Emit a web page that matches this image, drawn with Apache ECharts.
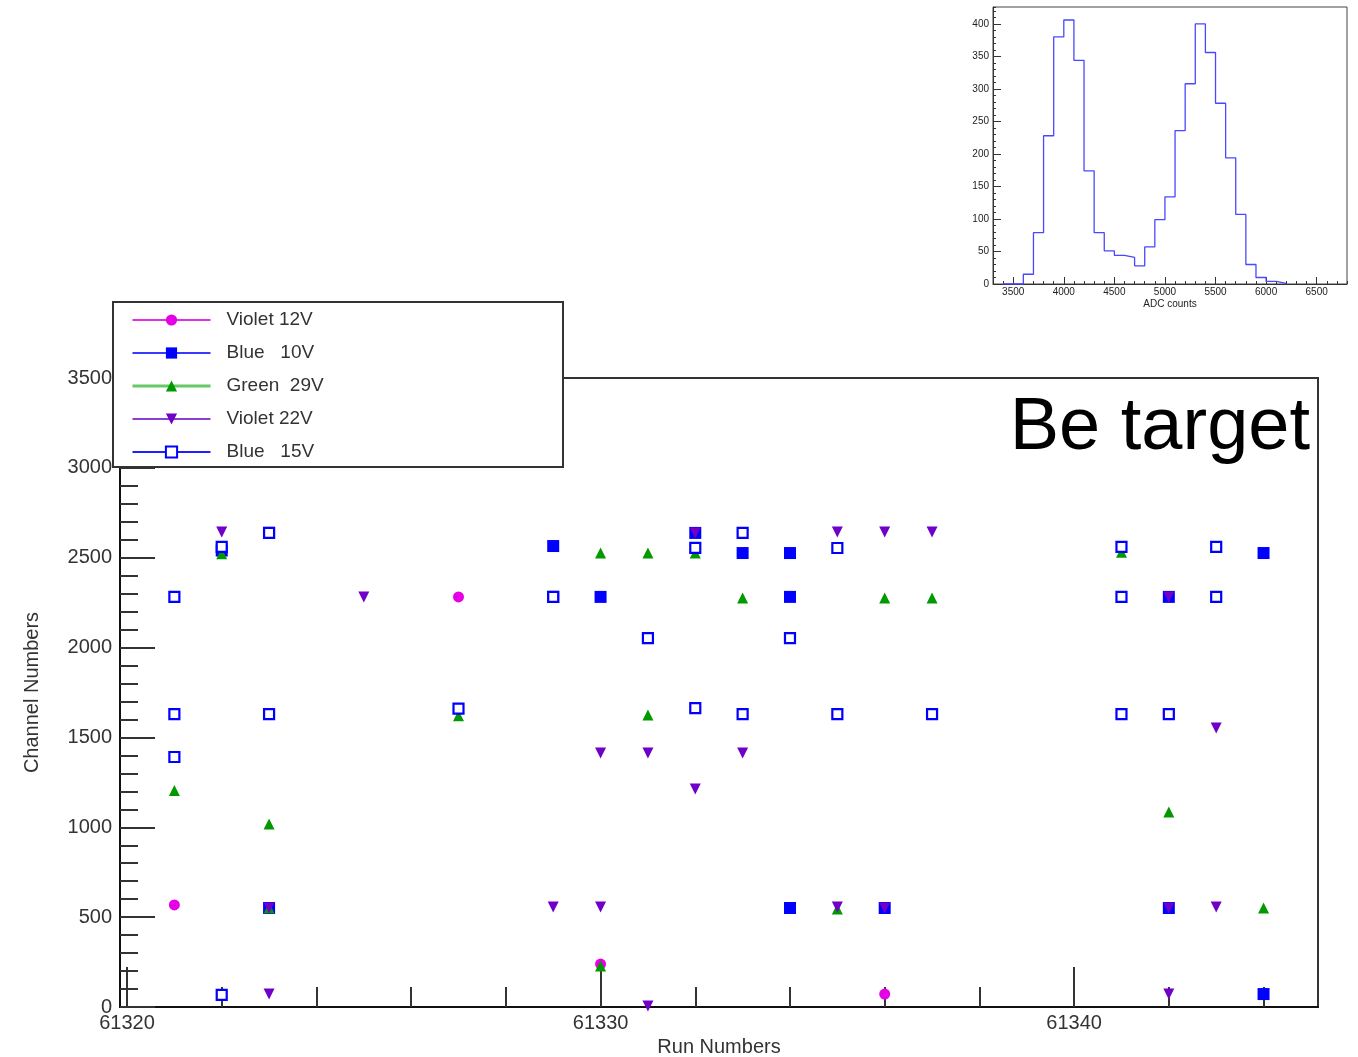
<!DOCTYPE html>
<html>
<head>
<meta charset="utf-8">
<script src="https://cdn.jsdelivr.net/npm/echarts@6/dist/echarts.min.js"></script>
<style>
  html, body { margin: 0; padding: 0; background: #fff; }
  #chart { width: 1358px; height: 1057px; }
</style>
</head>
<body>
<div id="chart"></div>
<script>
// run number vs channel, one list of [run, channel] per LED setting
const violet12V = [[61321, 568], [61327, 2282], [61330, 239], [61336, 72]];
const blue10V = [
  [61322, 2540], [61323, 2638], [61323, 551], [61329, 2565], [61329, 2282],
  [61330, 2282], [61332, 2638], [61333, 2526], [61334, 2526], [61334, 2282],
  [61334, 551], [61336, 551], [61342, 2282], [61342, 551], [61344, 2526], [61344, 72]
];
const green29V = [
  [61321, 1205], [61322, 2522], [61323, 1018], [61323, 551], [61327, 1620],
  [61329, 2282], [61330, 2526], [61330, 228], [61331, 2526], [61331, 1625],
  [61332, 2526], [61333, 2276], [61335, 545], [61336, 2276], [61337, 2276],
  [61341, 2530], [61341, 2282], [61342, 1085], [61343, 2282], [61344, 551]
];
const violet22V = [
  [61322, 2643], [61323, 2638], [61323, 551], [61323, 72], [61325, 2282],
  [61327, 1655], [61329, 556], [61330, 1413], [61330, 556], [61331, 1413],
  [61331, 5], [61332, 2638], [61332, 1663], [61332, 1213], [61333, 1413],
  [61335, 2643], [61335, 556], [61336, 2643], [61336, 551], [61337, 2643],
  [61342, 2282], [61342, 551], [61342, 72], [61343, 1553], [61343, 556]
];
const blue15V = [
  [61321, 2282], [61321, 1630], [61321, 1391], [61322, 2560], [61322, 67],
  [61323, 2638], [61323, 1630], [61327, 1660], [61329, 2282], [61331, 2053],
  [61332, 2555], [61332, 1663], [61333, 2638], [61333, 1630], [61334, 2053],
  [61335, 2554], [61335, 1630], [61337, 1630], [61341, 2560], [61341, 2282],
  [61341, 1630], [61342, 1630], [61343, 2560], [61343, 2282]
];
const runMajor = [61320, 61330, 61340];
const runMinor = [61322, 61324, 61326, 61328, 61332, 61334, 61336, 61338, 61342, 61344];

// inset histogram: bin low edges and counts (bin width 100)
const adcEdges = [3400, 3500, 3600, 3700, 3800, 3900, 4000, 4100, 4200, 4300, 4400, 4500, 4600, 4700,
  4800, 4900, 5000, 5100, 5200, 5300, 5400, 5500, 5600, 5700, 5800, 5900, 6000, 6100, 6200];
const adcCounts = [0, 0, 15, 79, 228, 380, 406, 344, 174, 79, 51, 44, 41, 28,
  57, 99, 134, 236, 308, 400, 356, 278, 194, 107, 30, 10, 4, 1, 0];
const adcLabels = [3500, 4000, 4500, 5000, 5500, 6000, 6500];
const countLabels = [0, 50, 100, 150, 200, 250, 300, 350, 400];

const FONT = "'Liberation Sans', Arial, Helvetica, sans-serif";
const chart = echarts.init(document.getElementById('chart'));

const tickLine = { color: '#333', width: 2 };
const smallTick = { color: '#333', width: 1 };
const plain = v => String(v);

const mkSeries = (name, data, symbol, size, color, extra) => Object.assign({
  name: name,
  type: 'line',
  xAxisIndex: 0,
  yAxisIndex: 0,
  data: data,
  symbol: symbol,
  symbolSize: size,
  showSymbol: true,
  clip: false,
  lineStyle: { opacity: 0, width: 0 },
  itemStyle: { color: color },
  emphasis: { disabled: true }
}, extra || {});

const option = {
  animation: false,
  backgroundColor: '#fff',
  textStyle: { fontFamily: FONT },
  grid: [
    { left: 120, top: 378, width: 1198, height: 629, outerBoundsMode: 'none', show: true, borderColor: '#333', borderWidth: 2 },
    { left: 993, top: 7, width: 354, height: 277, outerBoundsMode: 'none', show: true, borderColor: '#444', borderWidth: 1 }
  ],
  xAxis: [
    {
      type: 'value', gridIndex: 0, min: 61319.852, max: 61345.15, position: 'bottom',
      axisLine: { onZero: false, lineStyle: { color: '#111', width: 2 } },
      axisTick: { inside: true, length: 40, customValues: runMajor, lineStyle: tickLine },
      axisLabel: { customValues: runMajor, formatter: plain, fontSize: 20, color: '#333', margin: 6 },
      splitLine: { show: false },
      name: 'Run Numbers', nameLocation: 'middle', nameGap: 29,
      nameTextStyle: { fontSize: 20, color: '#333' }
    },
    {
      type: 'value', gridIndex: 0, min: 61319.852, max: 61345.15, position: 'bottom',
      axisLine: { show: false, onZero: false },
      axisTick: { inside: true, length: 20, customValues: runMinor, lineStyle: tickLine },
      axisLabel: { show: false },
      splitLine: { show: false }
    },
    {
      type: 'value', gridIndex: 1, min: 3300, max: 6800, interval: 100, position: 'bottom',
      axisLine: { onZero: false, lineStyle: { color: '#333', width: 1 } },
      axisTick: { inside: true, length: 3, lineStyle: smallTick },
      axisLabel: { customValues: adcLabels, formatter: plain, fontSize: 10, color: '#222', margin: 3 },
      splitLine: { show: false },
      name: 'ADC counts', nameLocation: 'middle', nameGap: 15,
      nameTextStyle: { fontSize: 10, color: '#222' }
    },
    {
      type: 'value', gridIndex: 1, min: 3300, max: 6800, position: 'bottom',
      axisLine: { show: false, onZero: false },
      axisTick: { inside: true, length: 7, customValues: adcLabels, lineStyle: smallTick },
      axisLabel: { show: false },
      splitLine: { show: false }
    }
  ],
  yAxis: [
    {
      type: 'value', gridIndex: 0, min: 0, max: 3500, interval: 500, position: 'left',
      axisLine: { show: true, onZero: false, lineStyle: { color: '#111', width: 2 } },
      axisTick: { inside: true, length: 35, lineStyle: tickLine },
      minorTick: { show: true, splitNumber: 5, length: 18, lineStyle: tickLine },
      axisLabel: { formatter: plain, fontSize: 20, color: '#333', margin: 8 },
      splitLine: { show: false },
      name: 'Channel Numbers', nameLocation: 'middle', nameGap: 78,
      nameTextStyle: { fontSize: 20, color: '#333' }
    },
    {
      type: 'value', gridIndex: 1, min: 0, max: 426, interval: 10, position: 'left',
      axisLine: { show: true, onZero: false, lineStyle: { color: '#333', width: 1 } },
      axisTick: { inside: true, length: 3, lineStyle: smallTick },
      axisLabel: { customValues: countLabels, formatter: plain, fontSize: 10, color: '#222', margin: 4 },
      splitLine: { show: false }
    },
    {
      type: 'value', gridIndex: 1, min: 0, max: 426, position: 'left',
      axisLine: { show: false, onZero: false },
      axisTick: { inside: true, length: 8, customValues: countLabels, lineStyle: smallTick },
      axisLabel: { show: false },
      splitLine: { show: false }
    }
  ],
  legend: {
    z: 10,
    orient: 'vertical',
    left: 131,
    top: 310,
    padding: 0,
    itemWidth: 78,
    itemHeight: 14,
    itemGap: 13,
    selectedMode: false,
    textStyle: { fontSize: 19, color: '#333', lineHeight: 20, padding: [0, 0, 0, 11] },
    data: [
      { name: 'Violet 12V', lineStyle: { color: '#e030e0', width: 2, opacity: 1 } },
      { name: 'Blue   10V', lineStyle: { color: '#3a3aff', width: 2, opacity: 1 } },
      { name: 'Green  29V', lineStyle: { color: '#66c866', width: 3, opacity: 1 } },
      { name: 'Violet 22V', lineStyle: { color: '#8a40d4', width: 2, opacity: 1 } },
      { name: 'Blue   15V', lineStyle: { color: '#2020ff', width: 2, opacity: 1 } }
    ]
  },
  graphic: [
    {
      type: 'rect', z: 9,
      shape: { x: 113, y: 302, width: 450, height: 165 },
      style: { fill: '#fff', stroke: '#333', lineWidth: 2 }
    },
    {
      type: 'text', z: 9,
      style: {
        x: 1310, y: 429, text: 'Be target', fill: '#000',
        font: "74px 'Liberation Sans', Arial, sans-serif",
        textAlign: 'right', textVerticalAlign: 'middle'
      }
    }
  ],
  series: [
    mkSeries('Violet 12V', violet12V, 'circle', 11, '#e600e6'),
    mkSeries('Blue   10V', blue10V, 'rect', 12, '#0000ff'),
    mkSeries('Green  29V', green29V, 'triangle', 11, '#009a00'),
    mkSeries('Violet 22V', violet22V, 'triangle', 11, '#7000c8', { symbolRotate: 180 }),
    mkSeries('Blue   15V', blue15V, 'rect', 10, '#ffffff', {
      itemStyle: { color: '#ffffff', borderColor: '#0000ff', borderWidth: 2.2 }
    }),
    {
      name: 'hist',
      type: 'line',
      xAxisIndex: 2,
      yAxisIndex: 1,
      step: 'end',
      symbol: 'none',
      data: adcEdges.map((e, i) => [e, adcCounts[i]]),
      lineStyle: { color: '#4848ff', width: 1.3 },
      emphasis: { disabled: true }
    }
  ]
};

chart.setOption(option);
</script>
</body>
</html>
